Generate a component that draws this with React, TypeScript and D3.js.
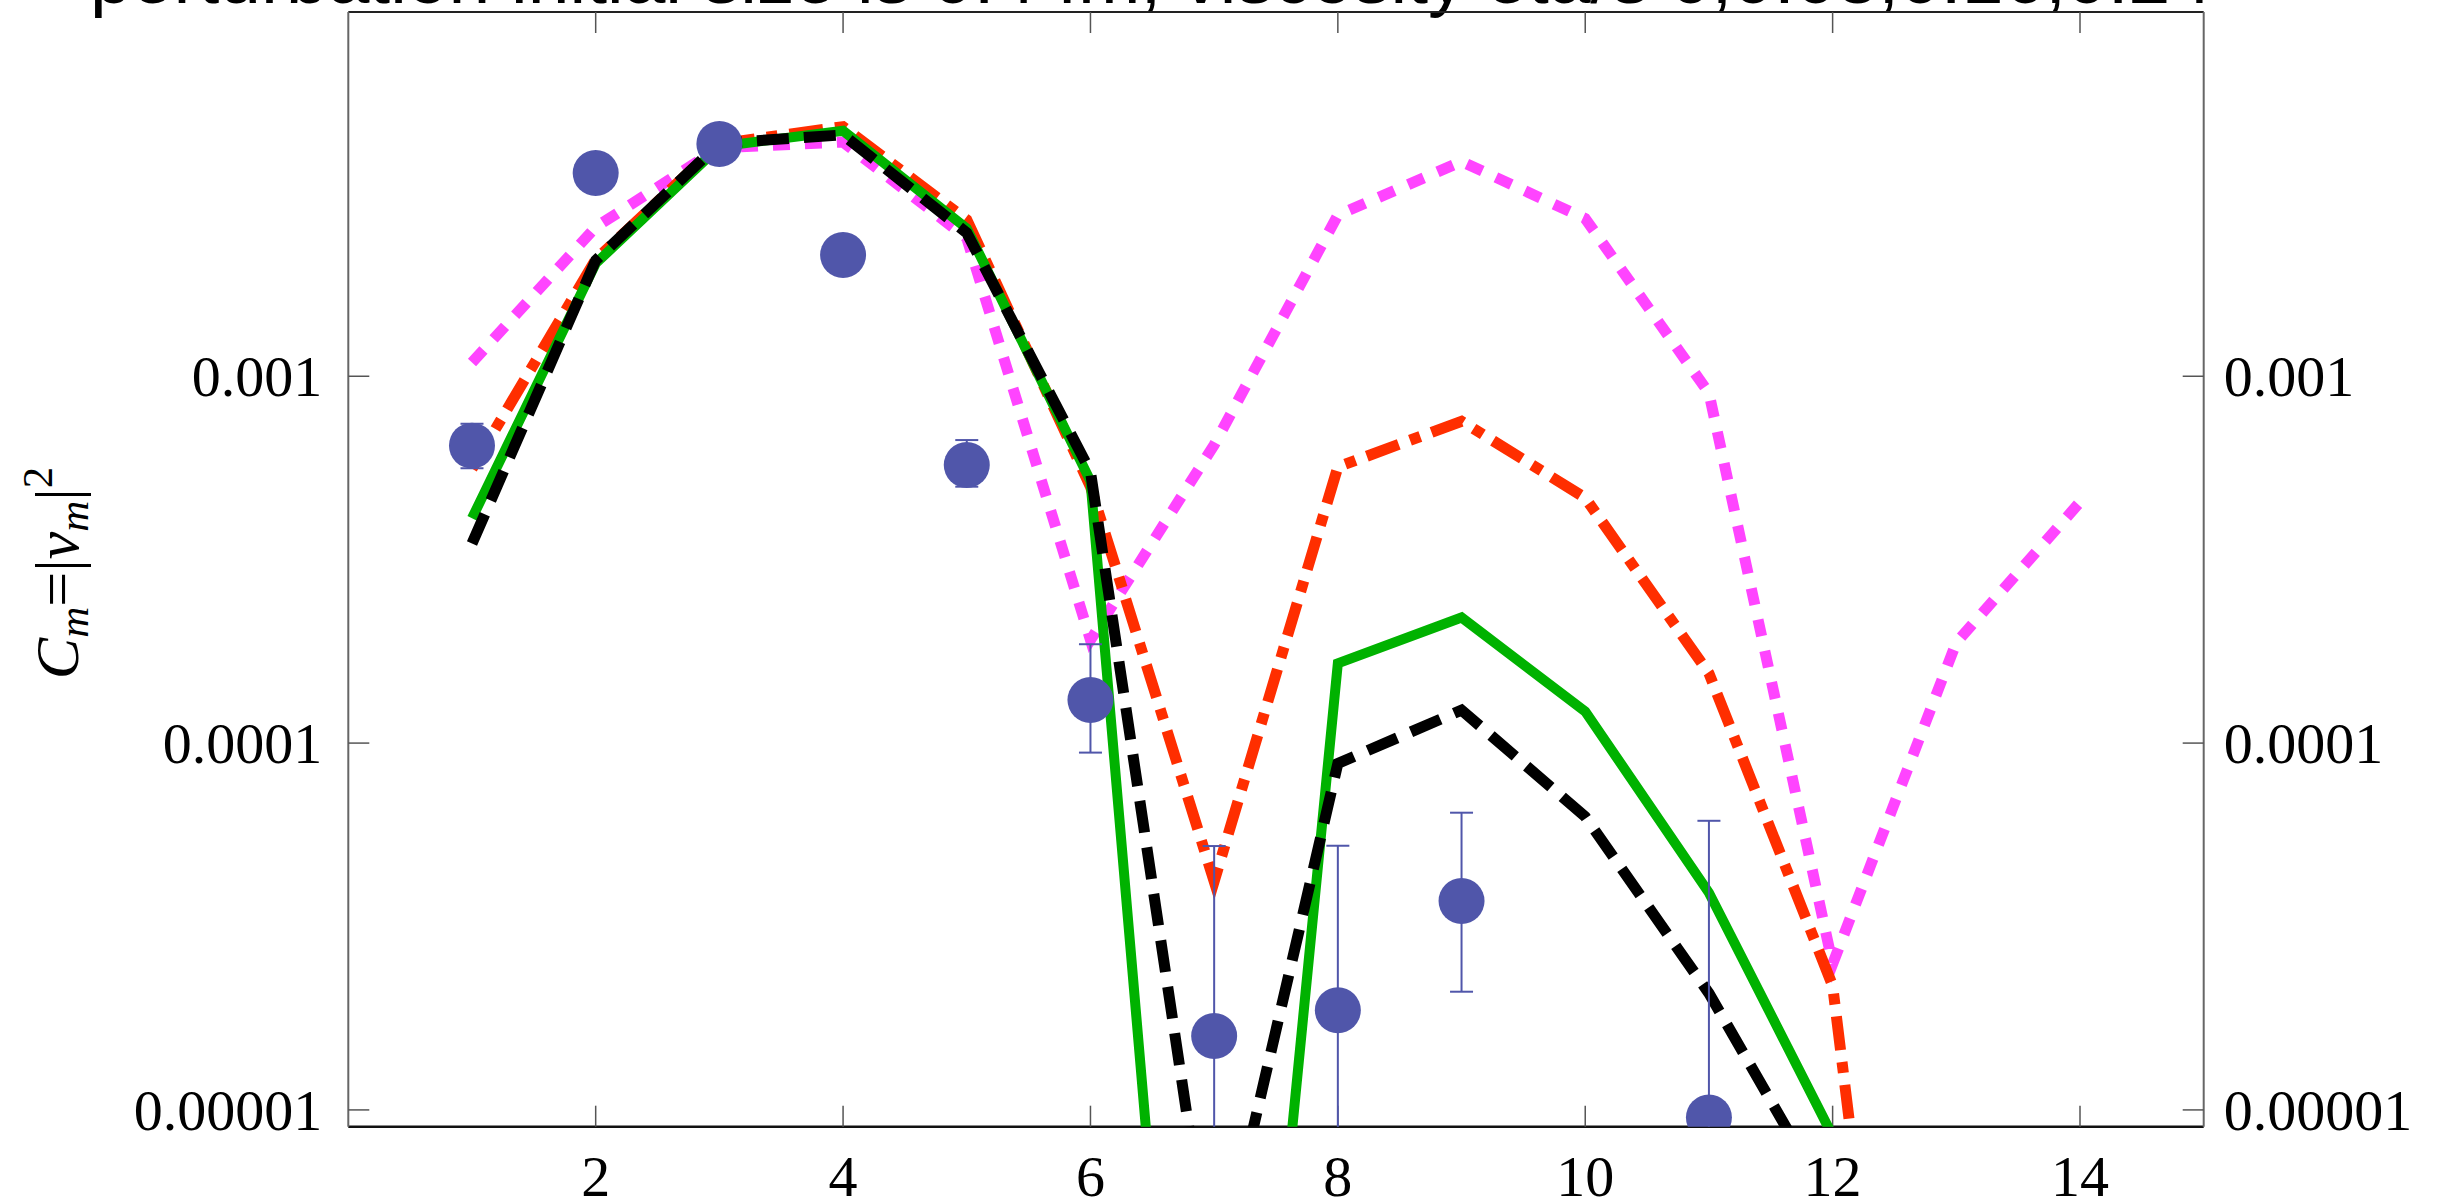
import React from "react";
import * as d3 from "d3";

// ---- data ----
const titleText = "perturbation initial size is 0.4 fm, viscosity eta/s  0,0.08,0.16,0.24";
const xTicks = [2, 4, 6, 8, 10, 12, 14];
const yTicks = [0.001, 0.0001, 0.00001];
const yTickLabels = ["0.001", "0.0001", "0.00001"];

const mMagenta = [1, 2, 3, 4, 5, 6, 7, 8, 9, 10, 11, 12, 13, 14];
const cMagenta = [1.09e-3, 2.55e-3, 4.2e-3, 4.35e-3, 2.38e-3, 1.91e-4, 6.5e-4, 2.75e-3, 3.85e-3, 2.69e-3, 9.0e-4, 2.5e-5, 1.88e-4, 4.54e-4];

const mRed = [1, 2, 3, 4, 5, 6, 7, 8, 9, 10, 11, 12, 13];
const cRed = [5.6e-4, 2.08e-3, 4.3e-3, 4.79e-3, 2.67e-3, 5.0e-4, 4.2e-5, 5.66e-4, 7.54e-4, 4.66e-4, 1.55e-4, 2.18e-5, 4e-8];

const mGreen = [1, 2, 3, 4, 5, 6, 7, 8, 9, 10, 11, 12];
const cGreen = [4.1e-4, 2.03e-3, 4.23e-3, 4.67e-3, 2.53e-3, 5.18e-4, 6e-8, 1.65e-4, 2.2e-4, 1.22e-4, 3.91e-5, 8.5e-6];

const mBlack = [1, 2, 3, 4, 5, 6, 7, 8, 9, 10, 11, 12];
const cBlack = [3.5e-4, 2.07e-3, 4.32e-3, 4.55e-3, 2.46e-3, 5.49e-4, 3.1e-6, 8.8e-5, 1.23e-4, 6.3e-5, 2.08e-5, 5.4e-6];

const mData = [1, 2, 3, 4, 5, 6, 7, 8, 9, 11];
const cData = [6.47e-4, 3.58e-3, 4.3e-3, 2.14e-3, 5.73e-4, 1.31e-4, 1.59e-5, 1.87e-5, 3.71e-5, 9.53e-6];
const errHigh = [7.42e-4, 3.58e-3, 4.3e-3, 2.14e-3, 6.7e-4, 1.86e-4, 5.24e-5, 5.25e-5, 6.46e-5, 6.14e-5];
const errLow = [5.61e-4, 3.58e-3, 4.3e-3, 2.14e-3, 5.0e-4, 9.42e-5, 1e-7, 1e-7, 2.1e-5, 1e-7];

// ---- layout ----
const W = 2446;
const H = 1203;
const left = 348.3;
const right = 2203.7;
const top = 12;
const bottom = 1126.7;

const x = d3.scaleLinear().domain([0, 15]).range([left, right]);
const y = d3.scaleLog().domain([9e-6, Math.pow(10, -2.007)]).range([bottom, top]);

const serif = "'Liberation Serif', 'Times New Roman', serif";
const sans = "'Liberation Sans', Arial, sans-serif";

function series(ms: number[], cs: number[]) {
  return ms.map((m, i) => [m, cs[i]] as [number, number]);
}

const line = d3
  .line<[number, number]>()
  .x((d) => x(d[0]))
  .y((d) => y(d[1]));

export default function App() {
  const tickLen = 21;
  const dotColor = "#5056AA";
  return (
    <svg
      width={W}
      height={H}
      style={{ position: "absolute", left: 0, top: 0, background: "#fff" }}
    >
      <defs>
        <clipPath id="plotClip">
          <rect x={left} y={top} width={right - left} height={bottom - top} />
        </clipPath>
      </defs>

      {/* title (clipped at top of image) */}
      <text x={90} y={3} fontFamily={sans} fontSize={75} fill="#000">
        {titleText}
      </text>

      {/* frame */}
      <line x1={left} x2={right} y1={top} y2={top} stroke="#222" strokeWidth={2} />
      <line x1={left} x2={right} y1={bottom} y2={bottom} stroke="#111" strokeWidth={2.5} />
      <line x1={left} x2={left} y1={top} y2={bottom} stroke="#666" strokeWidth={2} />
      <line x1={right} x2={right} y1={top} y2={bottom} stroke="#666" strokeWidth={2} />

      {/* x ticks */}
      {xTicks.map((t) => (
        <g key={"xt" + t}>
          <line x1={x(t)} x2={x(t)} y1={bottom} y2={bottom - tickLen} stroke="#555" strokeWidth={1.5} />
          <line x1={x(t)} x2={x(t)} y1={top} y2={top + tickLen} stroke="#555" strokeWidth={1.5} />
          <text x={x(t)} y={1196} textAnchor="middle" fontFamily={serif} fontSize={58} fill="#000">
            {t}
          </text>
        </g>
      ))}

      {/* y ticks */}
      {yTicks.map((t, i) => (
        <g key={"yt" + i}>
          <line x1={left} x2={left + tickLen} y1={y(t)} y2={y(t)} stroke="#555" strokeWidth={1.5} />
          <line x1={right} x2={right - tickLen} y1={y(t)} y2={y(t)} stroke="#555" strokeWidth={1.5} />
          <text x={left - 26} y={y(t) + 20} textAnchor="end" fontFamily={serif} fontSize={58} fill="#000">
            {yTickLabels[i]}
          </text>
          <text x={right + 20} y={y(t) + 20} textAnchor="start" fontFamily={serif} fontSize={58} fill="#000">
            {yTickLabels[i]}
          </text>
        </g>
      ))}

      {/* y label */}
      <text
        transform="translate(78,573) rotate(-90)"
        textAnchor="middle"
        fontFamily={serif}
        fontSize={62}
        fill="#000"
      >
        <tspan fontStyle="italic">C</tspan>
        <tspan fontStyle="italic" fontSize={43} dy={10}>m</tspan>
        <tspan dy={-10}>=|</tspan>
        <tspan fontStyle="italic">v</tspan>
        <tspan fontStyle="italic" fontSize={43} dy={10}>m</tspan>
        <tspan dy={-10}>|</tspan>
        <tspan fontSize={43} dy={-26}>2</tspan>
      </text>

      <g clipPath="url(#plotClip)">
        <path d={line(series(mMagenta, cMagenta)) || ""} fill="none" stroke="#FF44FF" strokeWidth={11} strokeDasharray="17 15" />
        <path d={line(series(mRed, cRed)) || ""} fill="none" stroke="#FF2E00" strokeWidth={11} strokeDasharray="34 12 11 12" />
        <path d={line(series(mGreen, cGreen)) || ""} fill="none" stroke="#00B200" strokeWidth={10} />
        <path d={line(series(mBlack, cBlack)) || ""} fill="none" stroke="#000" strokeWidth={11} strokeDasharray="32 15" />

        {mData.map((m, i) => (
          <g key={"d" + m}>
            <line x1={x(m)} x2={x(m)} y1={y(errHigh[i])} y2={y(errLow[i])} stroke={dotColor} strokeWidth={2} />
            <line x1={x(m) - 11.5} x2={x(m) + 11.5} y1={y(errHigh[i])} y2={y(errHigh[i])} stroke={dotColor} strokeWidth={2} />
            <line x1={x(m) - 11.5} x2={x(m) + 11.5} y1={y(errLow[i])} y2={y(errLow[i])} stroke={dotColor} strokeWidth={2} />
            <circle cx={x(m)} cy={y(cData[i])} r={23} fill={dotColor} />
          </g>
        ))}
      </g>
    </svg>
  );
}
